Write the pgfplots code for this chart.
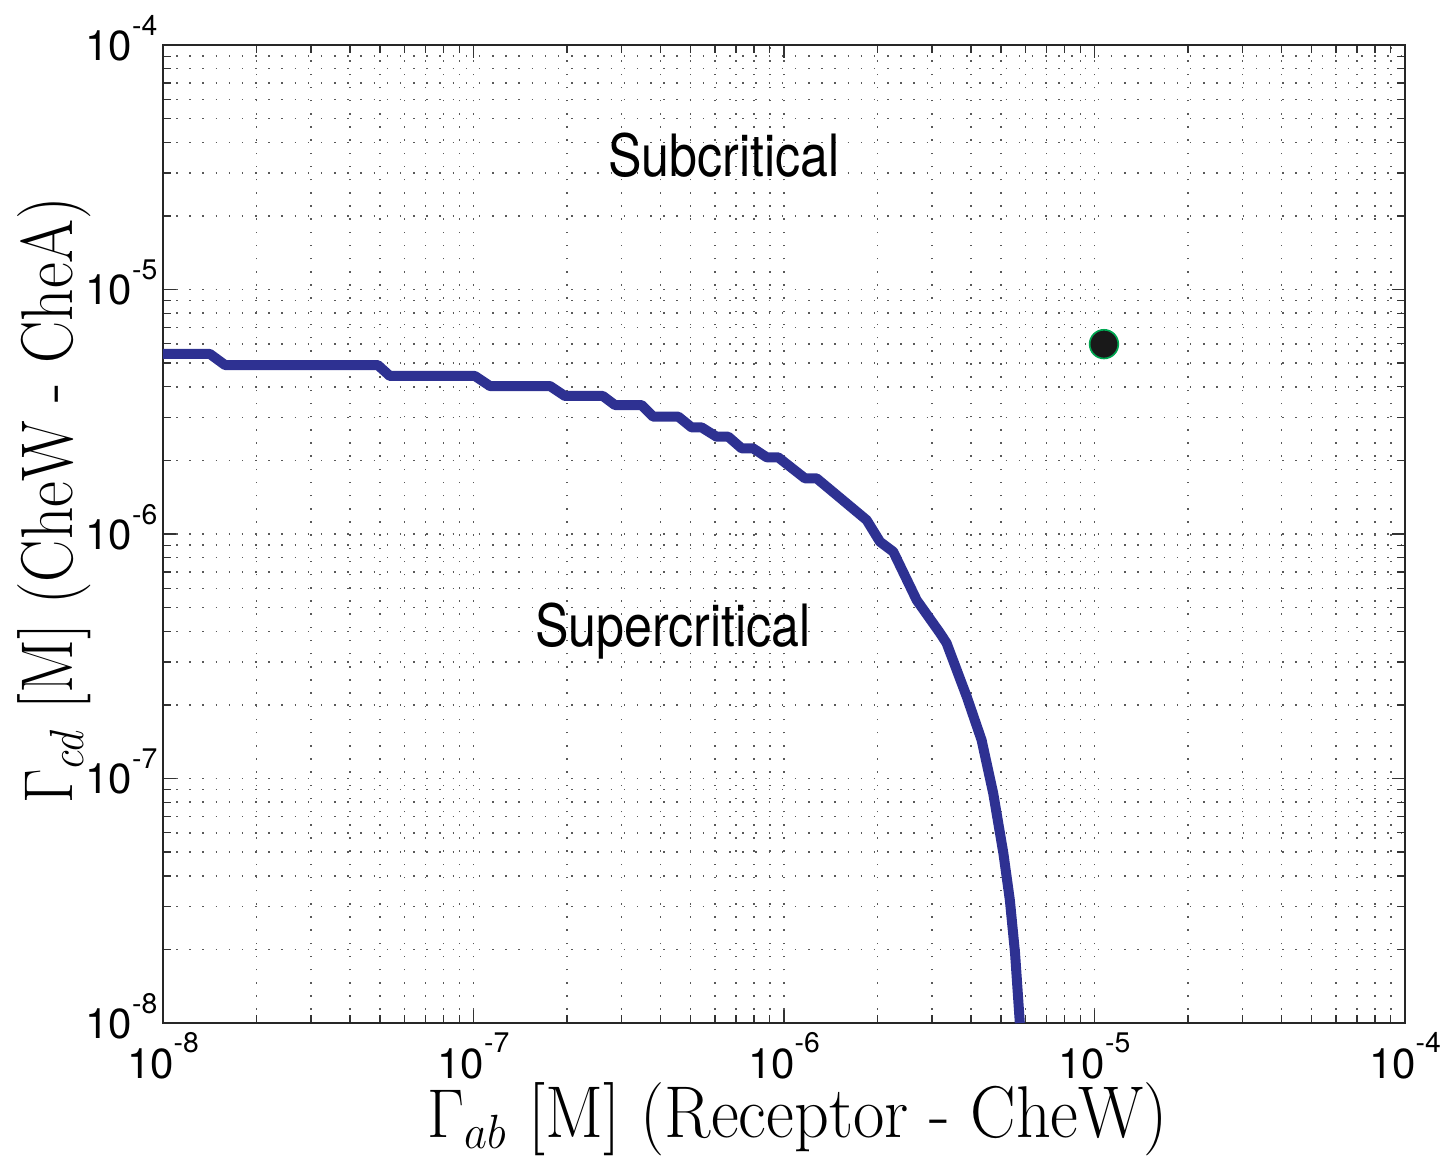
\documentclass[border=0pt]{standalone}
\usepackage{pgfplots}
\pgfplotsset{compat=1.18}
\usetikzlibrary{calc}
\usepackage{fontspec}
\newfontfamily\heros{TeX Gyre Heros}
\newfontfamily\heroscond[FakeStretch=0.86]{TeX Gyre Heros}
\definecolor{curveblue}{RGB}{46,49,146}
\definecolor{dotgreen}{RGB}{0,166,81}
\newcommand{\tl}[1]{10\raisebox{7.6pt}{\fontsize{8.5}{8.5}\selectfont #1}}
\begin{document}
\begin{tikzpicture}
\begin{axis}[
  name=main,
  scale only axis,
  width=372.6pt, height=293.4pt,
  xmode=log, ymode=log,
  xmin=1e-8, xmax=1e-4, ymin=1e-8, ymax=1e-4,
  xtick={1e-8,1e-7,1e-6,1e-5,1e-4},
  ytick={1e-8,1e-7,1e-6,1e-5,1e-4},
  xticklabels={\tl{-8},\tl{-7},\tl{-6},\tl{-5},\tl{-4}},
  yticklabels={\tl{-8},\tl{-7},\tl{-6},\tl{-5},\tl{-4}},
  xticklabel style={font=\fontsize{12.6}{12.6}\heros, anchor=base, inner sep=0pt, yshift=-16.5pt},
  yticklabel style={font=\fontsize{12.6}{12.6}\heros, anchor=base east, inner sep=0pt, yshift=-4.6pt, xshift=-1.5pt},
  tick align=inside,
  major tick length=4pt, minor tick length=2.4pt,
  every tick/.style={black!80, line width=0.4pt},
  axis line style={black!85, line width=0.6pt},
  grid=both,
  major grid style={black!65, line width=0.45pt, dash pattern=on 0.45pt off 3.5pt},
  minor grid style={black!65, line width=0.45pt, dash pattern=on 0.45pt off 3.5pt},
  xlabel={\scalebox{0.93}[1]{$\Gamma_{ab}$ [M] (Receptor - CheW)}},
  ylabel={\scalebox{0.865}[1]{$\Gamma_{cd}$ [M] (CheW - CheA)}},
  label style={font=\fontsize{22}{22}\selectfont, inner sep=0pt},
  xlabel style={at={(axis description cs:0.511,-0.0985)}, anchor=center},
  ylabel style={at={(axis description cs:-0.0874,0.5348)}, anchor=center},
  clip=true,
]
\addplot[curveblue, line width=3pt, line join=round] table[row sep=\\] {
x y\\
1.000e-8 5.45e-6\\
1.417e-8 5.45e-6\\
1.585e-8 4.91e-6\\
4.92e-8 4.91e-6\\
5.38e-8 4.43e-6\\
1.011e-7 4.43e-6\\
1.13e-7 4.03e-6\\
1.764e-7 4.03e-6\\
1.97e-7 3.67e-6\\
2.61e-7 3.67e-6\\
2.855e-7 3.37e-6\\
3.48e-7 3.37e-6\\
3.79e-7 3.02e-6\\
4.57e-7 3.02e-6\\
5.04e-7 2.73e-6\\
5.43e-7 2.73e-6\\
6.07e-7 2.50e-6\\
6.62e-7 2.50e-6\\
7.31e-7 2.24e-6\\
7.96e-7 2.24e-6\\
8.80e-7 2.06e-6\\
9.58e-7 2.06e-6\\
1.168e-6 1.69e-6\\
1.274e-6 1.69e-6\\
1.846e-6 1.141e-6\\
2.038e-6 9.30e-7\\
2.25e-6 8.46e-7\\
2.675e-6 5.37e-7\\
3.18e-6 3.94e-7\\
3.34e-6 3.58e-7\\
3.88e-6 2.16e-7\\
4.33e-6 1.437e-7\\
4.72e-6 8.70e-8\\
5.09e-6 4.94e-8\\
5.34e-6 3.18e-8\\
5.55e-6 1.93e-8\\
5.75e-6 1.0e-8\\
};
\addplot[only marks, mark=*, mark size=4.3pt, mark options={fill=black!90, draw=dotgreen, line width=0.5pt}] coordinates {(1.073e-5,5.98e-6)};
\node[font=\fontsize{17.5}{17.5}\heroscond] at (axis cs:6.41e-7,3.55e-5) {Subcritical};
\node[font=\fontsize{17.5}{17.5}\heroscond] at (axis cs:4.39e-7,4.01e-7) {Supercritical};
\end{axis}
\pgfresetboundingbox
\path (main.south west) ++(-48.9pt,-40.2pt) rectangle ($(main.north east)+(14.1pt,13.5pt)$);
\end{tikzpicture}
\end{document}
